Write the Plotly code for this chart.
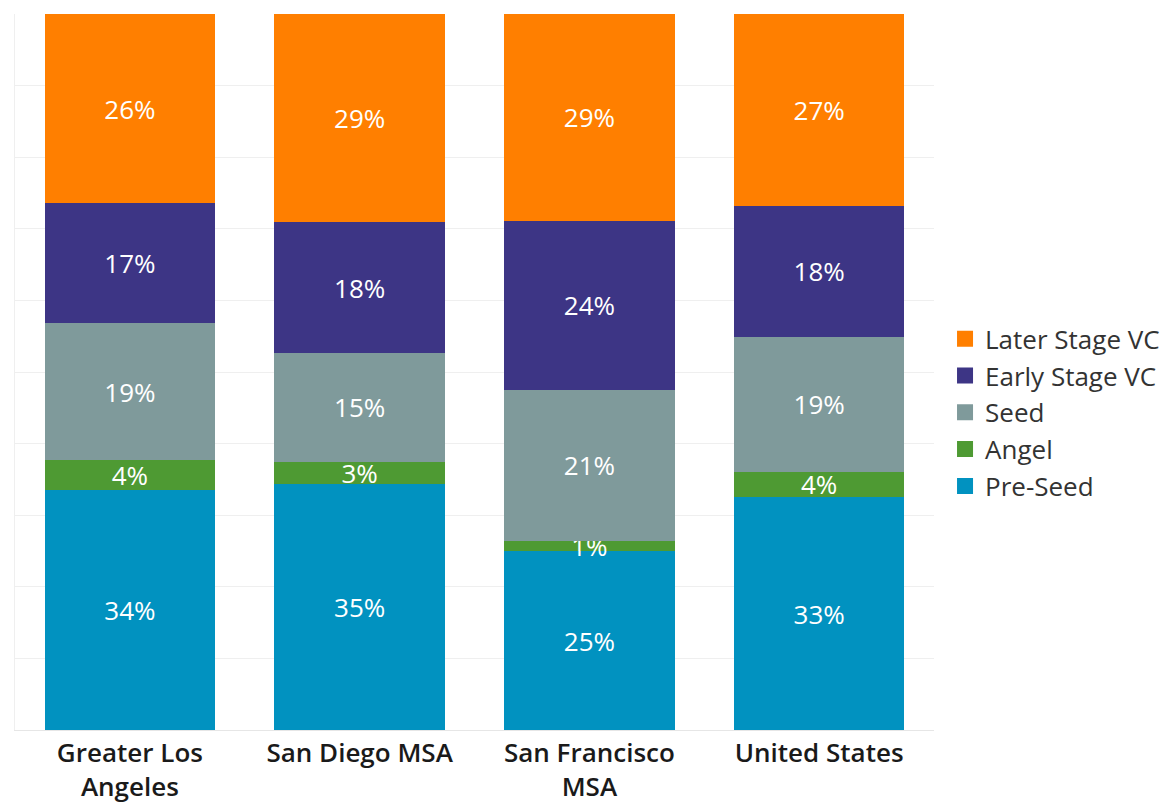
import plotly.graph_objects as go

categories = ["Greater Los<br>Angeles", "San Diego MSA", "San Francisco<br>MSA", "United States"]

series_names = ["Pre-Seed", "Angel", "Seed", "Early Stage VC", "Later Stage VC"]
pre_seed = [33.5, 34.4, 25.0, 32.5]
angel = [4.2, 3.1, 1.4, 3.6]
seed = [19.1, 15.1, 21.1, 18.8]
early_vc = [16.8, 18.4, 23.6, 18.3]
later_vc = [26.4, 29.0, 28.9, 26.8]

pre_seed_lbl = ["34%", "35%", "25%", "33%"]
angel_lbl = ["4%", "3%", "1%", "4%"]
seed_lbl = ["19%", "15%", "21%", "19%"]
early_lbl = ["17%", "18%", "24%", "18%"]
later_lbl = ["26%", "29%", "29%", "27%"]

colors = ["#0192C0", "#4E9A33", "#7F9A9B", "#3D3585", "#FF7F00"]

values = [pre_seed, angel, seed, early_vc, later_vc]
labels = [pre_seed_lbl, angel_lbl, seed_lbl, early_lbl, later_lbl]

FONT = "Open Sans"

fig = go.Figure()
for name, vals, lbl, col in zip(series_names, values, labels, colors):
    fig.add_trace(go.Bar(
        x=categories, y=vals, name=name, marker=dict(color=col, line=dict(width=0)),
        text=lbl, textposition="inside", insidetextanchor="middle",
        textangle=0, constraintext="none",
        textfont=dict(color="white", size=26, family=FONT),
        hoverinfo="skip", showlegend=False,
    ))

# legend entries with larger square swatches
for name, col in reversed(list(zip(series_names, colors))):
    fig.add_trace(go.Scatter(
        x=[None], y=[None], mode="markers", name=name,
        marker=dict(symbol="square", size=18, color=col),
        hoverinfo="skip",
    ))

fig.update_layout(
    barmode="stack",
    bargap=0.257,
    width=1173, height=803,
    margin=dict(l=6.5, r=246.5, t=6, b=81),
    plot_bgcolor="white", paper_bgcolor="white",
    font=dict(family=FONT, color="#222222"),
    uniformtext=dict(minsize=26, mode="show"),
    legend=dict(
        traceorder="normal",
        x=1.012, xanchor="left", y=0.443, yanchor="middle",
        font=dict(size=26, family=FONT, color="#333333"),
        bgcolor="rgba(0,0,0,0)",
        itemwidth=30,
        tracegroupgap=0,
    ),
    xaxis=dict(
        showgrid=False, showline=True, linecolor="#e6e6e6", linewidth=1,
        tickfont=dict(size=26, family=FONT, color="#1a1a1a", weight=600),
        ticks="", fixedrange=True,
    ),
    yaxis=dict(
        range=[0, 100], dtick=10, showgrid=True, gridcolor="#efefef",
        showticklabels=False, zeroline=False, showline=True, linecolor="#efefef",
        fixedrange=True,
    ),
)

fig.write_html("out.html")
